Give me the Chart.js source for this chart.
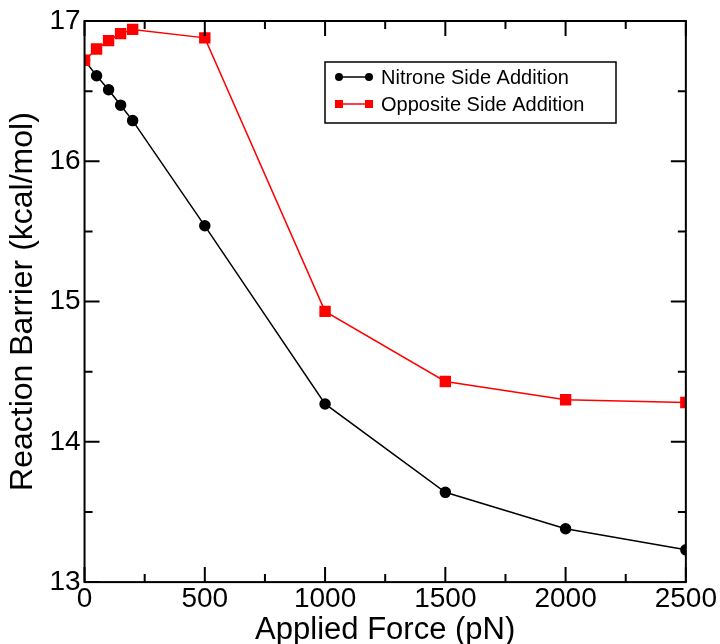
<!DOCTYPE html>
<html>
<head>
<meta charset="utf-8">
<script src="https://cdn.jsdelivr.net/npm/chart.js@4.4.1/dist/chart.umd.min.js"></script>
<style>
  html, body { margin: 0; padding: 0; background: #fff; }
  #wrap { width: 720px; height: 644px; }
</style>
</head>
<body>
<div id="wrap"><canvas id="chart" width="720" height="644"></canvas></div>
<script>
// data
const forces = [0, 50, 100, 150, 200, 500, 1000, 1500, 2000, 2500];
const nitroneSide = [16.72, 16.61, 16.51, 16.40, 16.29, 15.54, 14.27, 13.64, 13.38, 13.23];
const oppositeSide = [16.72, 16.80, 16.86, 16.91, 16.94, 16.88, 14.93, 14.43, 14.30, 14.28];
const xMinorTicks = [250, 750, 1250, 1750, 2250];
const yMinorTicks = [13.5, 14.5, 15.5, 16.5];

const font = "Arial, 'Liberation Sans', sans-serif";

function toPoints(ys) {
    return forces.map((x, i) => ({ x: x, y: ys[i] }));
}

// ticks pointing inward on all four sides, plus frame
const frameTicks = {
    id: "frameTicks",
    afterDraw(chart) {
        const ctx = chart.ctx;
        const a = chart.chartArea;
        const xs = chart.scales.x;
        const ys = chart.scales.y;
        ctx.save();
        ctx.strokeStyle = "#000";
        ctx.lineWidth = 2;
        ctx.strokeRect(a.left, a.top, a.right - a.left, a.bottom - a.top);
        ctx.beginPath();
        const tick = (len, isX, v) => {
            if (isX) {
                const px = xs.getPixelForValue(v);
                ctx.moveTo(px, a.bottom); ctx.lineTo(px, a.bottom - len);
                ctx.moveTo(px, a.top); ctx.lineTo(px, a.top + len);
            } else {
                const py = ys.getPixelForValue(v);
                ctx.moveTo(a.left, py); ctx.lineTo(a.left + len, py);
                ctx.moveTo(a.right, py); ctx.lineTo(a.right - len, py);
            }
        };
        xs.ticks.forEach(t => tick(15, true, t.value));
        xMinorTicks.forEach(v => tick(8, true, v));
        ys.ticks.forEach(t => tick(15, false, t.value));
        yMinorTicks.forEach(v => tick(8, false, v));
        ctx.stroke();
        ctx.restore();
    }
};

// legend box inside the plot
const boxLegend = {
    id: "boxLegend",
    afterDraw(chart) {
        const ctx = chart.ctx;
        const left = 325, top = 62, w = 291, h = 61;
        ctx.save();
        ctx.fillStyle = "#fff";
        ctx.fillRect(left, top, w, h);
        ctx.strokeStyle = "#000";
        ctx.lineWidth = 1.5;
        ctx.strokeRect(left, top, w, h);
        chart.data.datasets.forEach((ds, i) => {
            const y = top + 15 + i * 27;
            ctx.strokeStyle = ds.borderColor;
            ctx.lineWidth = 1.5;
            ctx.beginPath();
            ctx.moveTo(339, y); ctx.lineTo(369, y);
            ctx.stroke();
            ctx.fillStyle = ds.backgroundColor;
            [339, 369].forEach(px => {
                ctx.beginPath();
                if (ds.pointStyle === "rect") {
                    ctx.fillRect(px - 4, y - 4, 8, 8);
                } else {
                    ctx.arc(px, y, 4, 0, Math.PI * 2);
                    ctx.fill();
                }
            });
            ctx.fillStyle = "#000";
            ctx.font = "20px " + font;
            ctx.textBaseline = "middle";
            ctx.fillText(ds.label, 381, y + 1);
        });
        ctx.restore();
    }
};

const ctx = document.getElementById("chart").getContext("2d");
const chart = new Chart(ctx, {
    type: "line",
    data: {
        datasets: [
            {
                label: "Nitrone Side Addition",
                data: toPoints(nitroneSide),
                borderColor: "#000",
                backgroundColor: "#000",
                borderWidth: 1.5,
                pointStyle: "circle",
                pointRadius: 5,
                pointHoverRadius: 5,
                tension: 0,
                order: 1
            },
            {
                label: "Opposite Side Addition",
                data: toPoints(oppositeSide),
                borderColor: "#ff0000",
                backgroundColor: "#ff0000",
                borderWidth: 1.5,
                pointStyle: "rect",
                pointRadius: 7,
                pointHoverRadius: 7,
                tension: 0,
                order: 0
            }
        ]
    },
    options: {
        responsive: false,
        animation: false,
        layout: { padding: { top: 21, right: 33, left: 4, bottom: 0 } },
        plugins: {
            legend: { display: false },
            tooltip: { enabled: false }
        },
        scales: {
            x: {
                type: "linear",
                min: 0,
                max: 2500,
                grid: { display: false, drawTicks: false, tickLength: 0 },
                border: { display: false },
                ticks: {
                    stepSize: 500, color: "#000", padding: 3, maxRotation: 0,
                    font: { size: 28, family: font, lineHeight: 1 },
                    callback: v => String(v)
                },
                title: { display: true, text: "Applied Force (pN)", color: "#000", font: { size: 31, family: font, lineHeight: 0.9 }, padding: { top: 0, bottom: 0 } }
            },
            y: {
                min: 13,
                max: 17,
                grid: { display: false, drawTicks: false, tickLength: 0 },
                border: { display: false },
                ticks: { stepSize: 1, color: "#000", font: { size: 28, family: font }, padding: 4 },
                title: { display: true, text: "Reaction Barrier (kcal/mol)", color: "#000", font: { size: 32, family: font, lineHeight: 1.2 }, padding: { top: 0, bottom: 3 } }
            }
        }
    },
    plugins: [frameTicks, boxLegend]
});
</script>
</body>
</html>
